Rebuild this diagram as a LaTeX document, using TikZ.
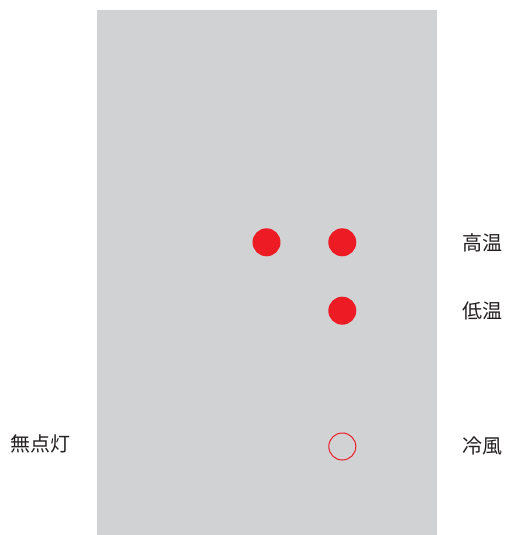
\documentclass[tikz,border=0pt]{standalone}
\usepackage{fontspec}
\newfontfamily\cjk{Noto Sans CJK JP}
\definecolor{panel}{HTML}{D1D2D4}
\definecolor{lamp}{HTML}{ED1C24}
\definecolor{txt}{HTML}{231F20}
\begin{document}
\begin{tikzpicture}[x=1pt,y=-1pt,
  lampon/.style={circle,fill=lamp,inner sep=0pt,minimum size=28pt},
  lampoff/.style={circle,draw=lamp,line width=1pt,inner sep=0pt,minimum size=27pt},
  lbl/.style={font=\cjk\fontsize{20}{20}\selectfont,text=txt,inner sep=0pt}]
\useasboundingbox (0,0) rectangle (504,535);
\fill[panel] (97,10) rectangle (437,535);
\node[lampon] (a) at (266.5,242.3) {};
\node[lampon] (b) at (342.3,242.3) {};
\node[lampon] (c) at (342.3,310.7) {};
\node[lampoff] (d) at (342.3,446.5) {};
\node[lbl,anchor=west] (h) at (462,242.5) {高温};
\node[lbl,anchor=west] (l) at (462,310.5) {低温};
\node[lbl,anchor=west] (r) at (462,445.5) {冷風};
\node[lbl,anchor=west] (m) at (10,444) {無点灯};
\end{tikzpicture}
\end{document}
